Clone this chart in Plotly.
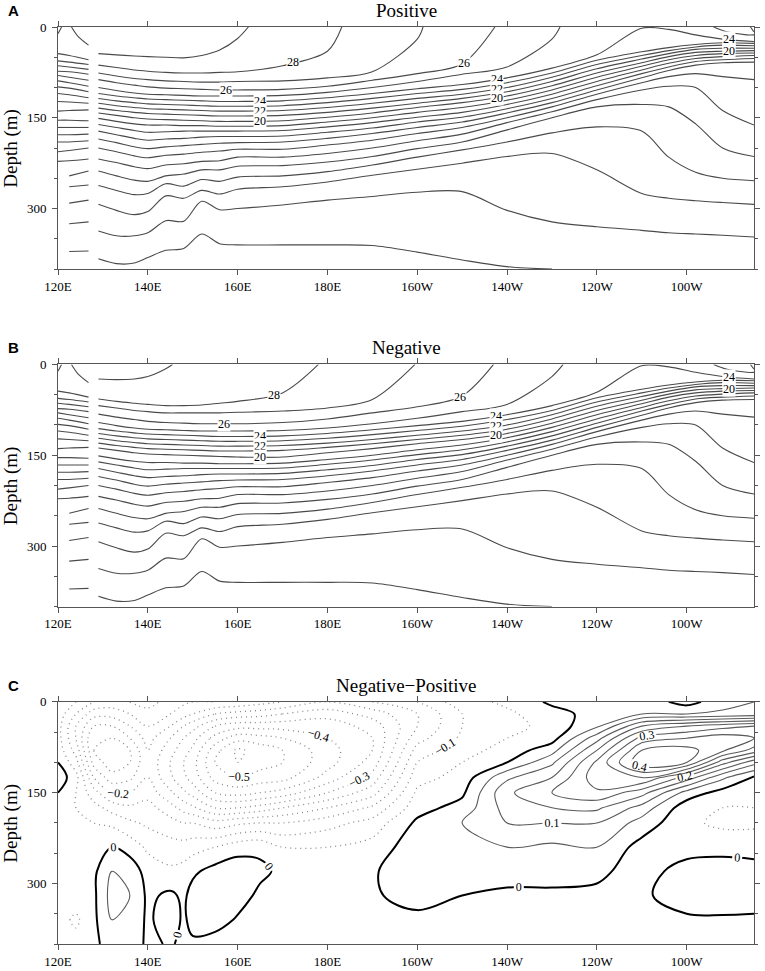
import plotly.graph_objects as go

SERIF = "Liberation Serif"
SANS = "Liberation Sans"
LINE_GREY = "#4a4a4a"
AXIS_GREY = "#555555"

# ---------------------------------------------------------------- panel A / B
# longitudes east of the small gap near 128E (deg east, >180 means west)
LON = [129, 133, 137, 140, 144, 148, 152, 156, 160, 170, 180, 190,
       200, 210, 220, 230, 240, 250, 256, 262, 268, 275]

# isotherm depths (m) for the Positive composite, listed along LON
A29 = [44, 46, 48, 49, 50, 51, 47, 38, 19]
A28 = [63, 67, 71, 73, 75, 76, 76, 75, 74, 64, 40]
A27 = [76, 81, 85, 87, 89, 90, 91, 91, 90, 89, 84, 74, 20]
A26 = [87, 92, 96, 99, 101, 102, 103, 104, 104, 103, 98, 88, 77, 61]
A25 = [100, 105, 109, 111, 112, 113, 114, 114, 114, 113, 108, 100, 90, 78, 66, 20]
A24 = [110, 114, 117, 119, 120, 121, 122, 123, 123, 122, 117, 110, 102, 95, 84, 68, 46, 2, 4, 13, 20, 24]
A23 = [118, 122, 125, 127, 128, 129, 130, 131, 131, 130, 125, 118, 110, 103, 92, 76, 55, 41, 34, 29, 26, 27]
A22 = [126, 130, 133, 135, 136, 137, 138, 139, 139, 138, 133, 126, 118, 111, 100, 83, 62, 47, 39, 33, 30, 31]
A21 = [134, 138, 141, 143, 144, 145, 146, 147, 147, 146, 141, 134, 126, 118, 107, 90, 69, 53, 44, 37, 35, 35]
A20 = [142, 146, 150, 152, 153, 154, 155, 156, 156, 155, 149, 142, 133, 125, 114, 97, 76, 59, 49, 42, 40, 39]
A19 = [151, 156, 160, 162, 162, 163, 163, 164, 164, 163, 157, 150, 141, 133, 121, 104, 83, 65, 54, 47, 44, 43]
A18 = [161, 166, 171, 174, 173, 172, 172, 172, 172, 171, 165, 158, 149, 141, 128, 111, 90, 71, 60, 52, 49, 47]
A17 = [172, 178, 184, 187, 185, 184, 182, 181, 181, 180, 174, 167, 157, 149, 135, 118, 97, 77, 66, 57, 54, 52]
A16 = [185, 191, 198, 201, 198, 196, 194, 192, 191, 190, 184, 176, 166, 157, 142, 125, 104, 84, 72, 63, 59, 58]
A15 = [200, 206, 213, 216, 212, 210, 207, 205, 202, 202, 195, 187, 176, 166, 150, 132, 111, 92, 82, 77, 82, 87]
A14 = [218, 224, 231, 234, 228, 226, 222, 221, 215, 215, 209, 200, 188, 177, 158, 140, 120, 104, 98, 100, 138, 162]
A13 = [238, 246, 253, 255, 246, 243, 236, 236, 230, 229, 223, 214, 201, 190, 170, 150, 132, 128, 132, 160, 200, 214]
A12 = [262, 270, 277, 275, 259, 263, 252, 255, 248, 246, 239, 228, 215, 203, 190, 175, 165, 172, 215, 240, 250, 254]
A11 = [293, 303, 310, 305, 279, 283, 270, 276, 268, 264, 256, 245, 235, 225, 214, 209, 236, 275, 283, 287, 290, 293]
A10 = [337, 345, 345, 340, 320, 321, 288, 302, 300, 294, 286, 280, 273, 272, 303, 322, 330, 336, 340, 342, 344, 347]
A9 = [383, 391, 390, 381, 369, 366, 342, 358, 360, 360, 360, 361, 372, 385, 396, 400]

# Negative composite: upper isotherms differ, deeper ones look the same
B29 = [24, 25, 24, 20, 7]
B28 = [57, 61, 64, 66, 68, 68, 67, 64, 61, 47]
B27 = [68, 72, 76, 78, 80, 80, 80, 80, 79, 77, 72, 58]
B26 = [82, 87, 91, 94, 96, 97, 98, 98, 98, 96, 90, 80, 70, 52]
B25 = [96, 101, 105, 107, 108, 109, 110, 110, 110, 109, 105, 98, 89, 78, 66, 20]
B24 = [106, 110, 113, 115, 116, 117, 118, 119, 119, 118, 114, 108, 101, 94, 83, 68, 46, 2, 4, 13, 20, 24]
B23 = [114, 118, 121, 123, 124, 125, 126, 127, 127, 126, 122, 116, 109, 102, 91, 76, 55, 41, 34, 29, 26, 27]
B22 = [122, 126, 129, 131, 132, 133, 134, 135, 135, 134, 130, 124, 117, 110, 100, 83, 62, 47, 39, 33, 30, 31]
B21 = [130, 134, 137, 139, 140, 141, 142, 143, 143, 142, 137, 131, 124, 117, 107, 90, 69, 53, 44, 37, 35, 35]
B20 = [138, 142, 146, 148, 149, 150, 151, 152, 153, 153, 146, 139, 131, 124, 114, 97, 76, 59, 49, 42, 40, 39]

# longitude where an isotherm reaches the surface
OUTCROP_A = {29: 162.4, 28: 183.2, 27: 201.3, 26: 217.3, 25: 231.8}
OUTCROP_B = {29: 145.5, 28: 178.0, 27: 199.5, 26: 217.0, 25: 232.5}

# short isotherm pieces west of the gap (depth at 120E, 122.5E, 126.8E)
WEST_LON = [120.0, 122.5, 126.8]
WEST_120 = [44, 56, 64, 73, 80, 89, 99, 110, 123, 139, 154, 166, 178, 190, 206, 222]
WEST_122 = [47, 58, 66, 74, 83, 92, 101, 112, 124, 138, 154, 166, 178, 190, 204, 221, 246, 264, 291, 325, 371]
WEST_127 = [54, 62, 70, 78, 88, 98, 107, 117, 126, 137, 155, 166, 177, 188, 200, 218, 238, 261, 286, 322, 370]

# small surface pieces
W29_LON, W29_DEP = [123.0, 124.5, 126.8], [0, 16, 30]
C29_LON, C29_DEP = [120.0, 120.8], [11, 0]
E25_LON, E25_DEP = [266.0, 269.0, 273.4, 275.0], [0, 8, 13, 13]
E26_LON, E26_DEP = [274.2, 275.0], [0, 8]

LEVELS_A = [(29, A29), (28, A28), (27, A27), (26, A26), (25, A25), (24, A24),
            (23, A23), (22, A22), (21, A21), (20, A20), (19, A19), (18, A18),
            (17, A17), (16, A16), (15, A15), (14, A14), (13, A13), (12, A12),
            (11, A11), (10, A10), (9, A9)]
LEVELS_B = [(29, B29), (28, B28), (27, B27), (26, B26), (25, B25), (24, B24),
            (23, B23), (22, B22), (21, B21), (20, B20), (19, A19), (18, A18),
            (17, A17), (16, A16), (15, A15), (14, A14), (13, A13), (12, A12),
            (11, A11), (10, A10), (9, A9)]

# line labels (text, lon, depth); the half hidden east "22" goes first
LABELS_A = [("22", 269.5, 30.5), ("24", 269.5, 20.5), ("20", 269.5, 40),
            ("28", 172.4, 58), ("26", 157.5, 104), ("24", 165, 122.5),
            ("22", 165, 138.5), ("20", 165, 155.5), ("26", 210.5, 60),
            ("24", 217.7, 86.5), ("22", 217.7, 102.5), ("20", 217.7, 116.5)]
LABELS_B = [("22", 269.5, 30.5), ("24", 269.5, 20.5), ("20", 269.5, 40),
            ("28", 168, 50), ("26", 157, 98), ("24", 165, 118.5),
            ("22", 165, 134.5), ("20", 165, 153), ("26", 209.5, 54),
            ("24", 217.5, 85.5), ("22", 217.5, 102.5), ("20", 217.5, 116.5)]

# ---------------------------------------------------------------- panel C
LON_C = [120, 124, 128, 132, 136, 140, 145, 148, 150, 155, 160, 165, 170,
         180, 190, 200, 210, 220, 230, 240, 250, 260, 268, 275]
DEP_C = [0, 20, 40, 60, 80, 100, 125, 150, 175, 200, 240, 280, 320, 360, 400]

# Negative minus Positive (degC), one list per longitude down DEP_C
D120 = [0.0, -0.02, -0.03, -0.03, -0.02, 0.0, 0.03, 0.0, -0.03, -0.03, -0.02, -0.02, -0.02, -0.03, -0.02]
D124 = [-0.05, -0.1, -0.15, -0.15, -0.12, -0.08, -0.03, -0.05, -0.05, -0.04, -0.03, -0.02, -0.02, -0.06, -0.03]
D128 = [-0.1, -0.18, -0.25, -0.3, -0.3, -0.27, -0.2, -0.13, -0.08, -0.05, -0.03, -0.01, -0.01, -0.01, -0.01]
D132 = [-0.12, -0.18, -0.25, -0.3, -0.34, -0.33, -0.28, -0.2, -0.12, -0.06, 0.0, 0.05, 0.07, 0.05, 0.02]
D136 = [-0.1, -0.15, -0.2, -0.25, -0.3, -0.3, -0.26, -0.2, -0.14, -0.09, -0.02, 0.03, 0.05, 0.04, 0.03]
D140 = [-0.08, -0.12, -0.15, -0.18, -0.2, -0.21, -0.2, -0.17, -0.13, -0.11, -0.06, -0.02, -0.01, -0.01, -0.01]
D145 = [-0.12, -0.15, -0.2, -0.25, -0.28, -0.3, -0.29, -0.24, -0.18, -0.13, -0.08, -0.04, 0.01, 0.03, 0.005]
D148 = [-0.14, -0.18, -0.25, -0.3, -0.33, -0.35, -0.34, -0.29, -0.22, -0.15, -0.08, -0.03, -0.01, -0.01, -0.01]
D150 = [-0.15, -0.2, -0.28, -0.33, -0.36, -0.38, -0.37, -0.32, -0.24, -0.15, -0.07, -0.01, 0.02, 0.02, -0.01]
D155 = [-0.15, -0.25, -0.35, -0.42, -0.48, -0.5, -0.47, -0.4, -0.3, -0.18, -0.05, 0.02, 0.04, 0.02, -0.02]
D160 = [-0.16, -0.27, -0.38, -0.48, -0.56, -0.55, -0.5, -0.42, -0.3, -0.16, -0.02, 0.03, 0.02, -0.005, -0.02]
D165 = [-0.18, -0.28, -0.38, -0.47, -0.53, -0.52, -0.48, -0.4, -0.28, -0.15, -0.01, 0.01, -0.01, -0.01, -0.01]
D170 = [-0.2, -0.3, -0.38, -0.45, -0.5, -0.5, -0.47, -0.38, -0.25, -0.15, -0.05, -0.01, -0.01, -0.01, -0.01]
D180 = [-0.25, -0.33, -0.38, -0.4, -0.42, -0.42, -0.38, -0.3, -0.2, -0.12, -0.05, -0.02, -0.01, -0.01, -0.01]
D190 = [-0.2, -0.28, -0.33, -0.35, -0.35, -0.33, -0.28, -0.22, -0.14, -0.08, -0.03, -0.005, -0.005, -0.01, -0.02]
D200 = [-0.15, -0.2, -0.2, -0.17, -0.13, -0.1, -0.07, -0.04, -0.02, 0.01, 0.03, 0.03, 0.015, -0.01, -0.02]
D210 = [-0.07, -0.1, -0.1, -0.09, -0.07, -0.05, -0.03, -0.01, 0.02, 0.05, 0.04, 0.02, 0.0, -0.02, -0.02]
D220 = [-0.04, -0.06, -0.07, -0.05, -0.03, 0.0, 0.09, 0.14, 0.12, 0.1, 0.05, 0.02, -0.01, -0.02, -0.02]
D230 = [0.01, -0.02, -0.03, -0.02, 0.03, 0.09, 0.15, 0.2, 0.15, 0.1, 0.04, 0.02, -0.01, -0.02, -0.02]
D240 = [0.03, 0.02, 0.04, 0.13, 0.2, 0.26, 0.28, 0.24, 0.16, 0.1, 0.05, 0.01, -0.01, -0.02, -0.02]
D250 = [0.03, 0.05, 0.2, 0.32, 0.4, 0.44, 0.3, 0.17, 0.08, 0.03, -0.02, -0.02, -0.01, -0.02, -0.02]
D260 = [-0.02, 0.05, 0.25, 0.35, 0.42, 0.4, 0.18, 0.03, -0.03, -0.04, -0.02, 0.02, 0.03, -0.01, -0.02]
D268 = [0.03, 0.06, 0.28, 0.38, 0.36, 0.22, 0.06, -0.02, -0.05, -0.06, -0.02, 0.03, 0.04, -0.01, -0.02]
D275 = [0.05, 0.07, 0.3, 0.35, 0.28, 0.12, -0.01, -0.03, -0.05, -0.06, -0.02, 0.02, 0.03, -0.01, -0.02]
DIFF = [D120, D124, D128, D132, D136, D140, D145, D148, D150, D155, D160, D165, D170,
        D180, D190, D200, D210, D220, D230, D240, D250, D260, D268, D275]

X_TICKS = [120, 140, 160, 180, 200, 220, 240, 260]
X_LABELS = ["120E", "140E", "160E", "180E", "160W", "140W", "120W", "100W"]
Y_TICKS = [0, 150, 300]

DOMAINS = [[0.736, 1.0], [0.368, 0.632], [0.0, 0.264]]
TITLES = ["Positive", "Negative", "Negative\u2212Positive"]
LETTERS = ["A", "B", "C"]


def line_trace(xs, ys, xa, ya):
    return go.Scatter(x=xs, y=ys, mode="lines", xaxis=xa, yaxis=ya,
                      line=dict(color=LINE_GREY, width=1.1, shape="spline", smoothing=0.9),
                      hoverinfo="skip", showlegend=False)


def add_isotherms(fig, levels, outcrops, xa, ya):
    for temp, depths in levels:
        pts = [(lo, d) for lo, d in zip(LON, depths) if d is not None]
        if temp in outcrops:
            pts.append((outcrops[temp], 0))
        pts.sort()
        fig.add_trace(line_trace([p[0] for p in pts], [p[1] for p in pts], xa, ya))
    for i in range(len(WEST_127)):
        xs, ys = [], []
        if i < len(WEST_120):
            xs.append(WEST_LON[0]); ys.append(WEST_120[i])
        xs += WEST_LON[1:]
        ys += [WEST_122[i], WEST_127[i]]
        fig.add_trace(line_trace(xs, ys, xa, ya))
    for xs, ys in [(W29_LON, W29_DEP), (C29_LON, C29_DEP), (E25_LON, E25_DEP), (E26_LON, E26_DEP)]:
        fig.add_trace(line_trace(xs, ys, xa, ya))


fig = go.Figure()
add_isotherms(fig, LEVELS_A, OUTCROP_A, "x", "y")
add_isotherms(fig, LEVELS_B, OUTCROP_B, "x2", "y2")

label_font = dict(family=SERIF, size=12, color="black")
common = dict(x=LON_C, y=DEP_C, z=DIFF, transpose=True, xaxis="x3", yaxis="y3",
              showscale=False, hoverinfo="skip")
neg_line = dict(color="#8a8a8a", width=1.3, dash="1px,4px", smoothing=1.0)
pos_line = dict(color="#5a5a5a", width=1.1, smoothing=1.0)
fig.add_trace(go.Contour(**common, line=neg_line,
                         contours=dict(start=-0.55, end=-0.05, size=0.1, coloring="none")))
fig.add_trace(go.Contour(**common, line=neg_line,
                         contours=dict(start=-0.5, end=-0.1, size=0.1, coloring="none",
                                       showlabels=True, labelfont=label_font, labelformat=".1f")))
fig.add_trace(go.Contour(**common, line=pos_line,
                         contours=dict(start=0.05, end=0.45, size=0.1, coloring="none")))
fig.add_trace(go.Contour(**common, line=pos_line,
                         contours=dict(start=0.1, end=0.4, size=0.1, coloring="none",
                                       showlabels=True, labelfont=label_font, labelformat=".1f")))
fig.add_trace(go.Contour(**common, line=dict(color="black", width=2.0, smoothing=1.0),
                         contours=dict(start=0, end=0.5, size=1, coloring="none",
                                       showlabels=True, labelfont=label_font, labelformat=".0f")))

annotations = []
for labels, xr, yr in [(LABELS_A, "x", "y"), (LABELS_B, "x2", "y2")]:
    for text, lo, d in labels:
        annotations.append(dict(text=text, x=lo, y=d, xref=xr, yref=yr, showarrow=False,
                                font=label_font, bgcolor="white", borderpad=0))

layout_axes = {}
for i, dom in enumerate(DOMAINS):
    sx = "" if i == 0 else str(i + 1)
    layout_axes["xaxis" + sx] = dict(
        domain=[0, 1], range=[120, 275], anchor="y" + sx, automargin=False,
        tickvals=X_TICKS, ticktext=X_LABELS, ticks="outside", ticklen=5,
        tickcolor=AXIS_GREY, showline=True, linecolor=AXIS_GREY, linewidth=1,
        mirror="ticks", showgrid=False, zeroline=False,
        tickfont=dict(family=SERIF, size=13, color="black"))
    layout_axes["yaxis" + sx] = dict(
        domain=dom, range=[400, 0], anchor="x" + sx, automargin=False,
        tickvals=Y_TICKS, ticks="outside", ticklen=5, tickcolor=AXIS_GREY,
        ticklabelstandoff=3,
        minor=dict(dtick=50, tick0=0, ticks="outside", ticklen=3, tickcolor=AXIS_GREY),
        showline=True, linecolor=AXIS_GREY, linewidth=1, mirror="ticks",
        showgrid=False, zeroline=False,
        tickfont=dict(family=SERIF, size=13, color="black"))
    annotations.append(dict(text="Depth (m)", x=-0.068, y=(dom[0] + dom[1]) / 2,
                            xref="paper", yref="paper", textangle=-90, showarrow=False,
                            xanchor="center", yanchor="middle",
                            font=dict(family=SERIF, size=19, color="black")))
    annotations.append(dict(text=TITLES[i], x=0.5, y=dom[1], xref="paper", yref="paper",
                            xanchor="center", yanchor="bottom", yshift=4, showarrow=False,
                            font=dict(family=SERIF, size=19, color="black")))
    annotations.append(dict(text="<b>" + LETTERS[i] + "</b>", x=-0.075, y=dom[1], xref="paper",
                            yref="paper", xanchor="left", yanchor="bottom", yshift=6,
                            showarrow=False, font=dict(family=SANS, size=15, color="black")))

fig.update_layout(
    width=765, height=971,
    margin=dict(l=58, r=11, t=27, b=27),
    paper_bgcolor="white", plot_bgcolor="white",
    showlegend=False, annotations=annotations,
    **layout_axes,
)

# drop the page's default body margin so the figure sits at the window origin
fig.write_html("out.html", config={"displayModeBar": False},
               post_script="document.body.style.margin = '0';")
